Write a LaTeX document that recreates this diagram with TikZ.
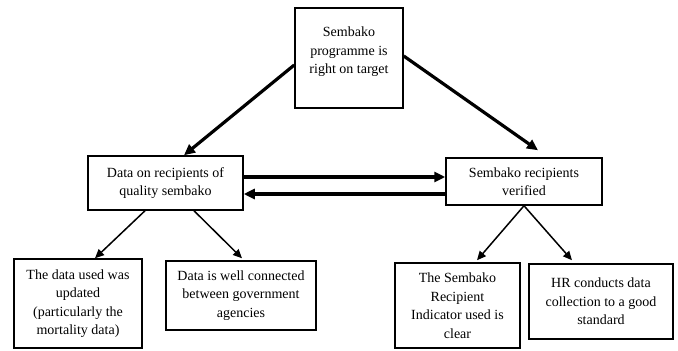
\documentclass[tikz,border=0pt]{standalone}
\usepackage{fontspec}
\setmainfont{Liberation Serif}
\usetikzlibrary{arrows.meta}
\tikzset{
  box/.style={draw=black, line width=1.5pt, align=center, inner sep=0pt,
    font=\fontsize{14}{18.5}\selectfont},
  thick arrow/.style={line width=3.2pt, -{Triangle[length=11pt,width=10pt]}},
  thin arrow/.style={line width=1.5pt, -{Triangle[length=9pt,width=8pt]}},
  plain/.style={align=center, inner sep=0pt, font=\fontsize{14}{18.5}\selectfont}
}
\begin{document}
\begin{tikzpicture}[x=1pt,y=-1pt]
\useasboundingbox (0,0) rectangle (678,351);
% boxes
\node[box, minimum width=108pt, minimum height=100pt] (top) at (349,58) {};
\node[plain] (topT) at (349,52) {Sembako\\programme is\\right on target};
\node[box, minimum width=155pt, minimum height=54pt] (left) at (165.5,183) {Data on recipients of\\quality sembako};
\node[box, minimum width=156pt, minimum height=47pt] (right) at (524,181.5) {Sembako recipients\\verified};
\node[box, minimum width=128pt, minimum height=89pt] (b1) at (78,303.5) {The data used was\\updated\\(particularly the\\mortality data)};
\node[box, minimum width=150pt, minimum height=69pt] (b2) at (241,295.5) {Data is well connected\\between government\\agencies};
\node[box, minimum width=125pt, minimum height=85pt] (b3) at (457.5,305.5) {The Sembako\\Recipient\\Indicator used is\\clear};
\node[box, minimum width=144pt, minimum height=75pt] (b4) at (601,301.5) {HR conducts data\\collection to a good\\standard};
% thick arrows
\draw[thick arrow] ([yshift=-7pt]top.west) -- ([xshift=18.5pt]left.north);
\draw[thick arrow] ([yshift=2pt]top.east) -- ([xshift=14pt,yshift=7pt]right.north);
\draw[thick arrow] ([yshift=6pt]left.east) -- ([yshift=4.5pt]right.west);
\draw[thick arrow] ([yshift=-12.5pt]right.west) -- ([yshift=-11pt]left.east);
% thin arrows
\draw[thin arrow] ([xshift=-20.5pt]left.south) -- ([xshift=17pt]b1.north);
\draw[thin arrow] ([xshift=28.5pt]left.south) -- ([xshift=1pt,yshift=2pt]b2.north);
\draw[thin arrow] (right.south) -- ([xshift=19.5pt,yshift=2pt]b3.north);
\draw[thin arrow] (right.south) -- ([xshift=-29pt,yshift=3pt]b4.north);
\end{tikzpicture}
\end{document}
